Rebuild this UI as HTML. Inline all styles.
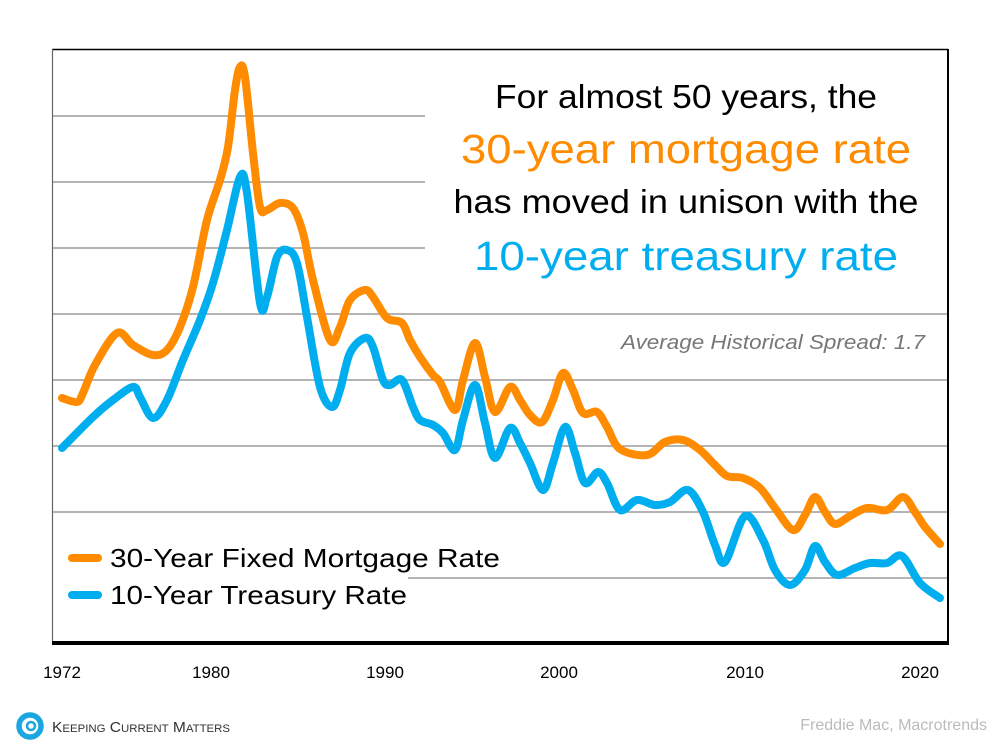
<!DOCTYPE html>
<html><head><meta charset="utf-8"><style>
html,body{margin:0;padding:0;background:#fff;}
svg{display:block;}
</style></head><body>
<svg id="s" width="1000" height="750" viewBox="0 0 1000 750" xmlns="http://www.w3.org/2000/svg" font-family="'Liberation Sans', sans-serif">
<rect width="1000" height="750" fill="#fff"/>
<g stroke="#888" stroke-width="1.2">
<line x1="52" y1="116" x2="425" y2="116"/>
<line x1="52" y1="182" x2="425" y2="182"/>
<line x1="52" y1="248" x2="425" y2="248"/>
<line x1="52" y1="314" x2="948" y2="314"/>
<line x1="52" y1="380" x2="948" y2="380"/>
<line x1="52" y1="446" x2="948" y2="446"/>
<line x1="52" y1="512" x2="948" y2="512"/>
<line x1="408" y1="578" x2="948" y2="578"/>
</g>
<line x1="52" y1="49.5" x2="948" y2="49.5" stroke="#000" stroke-width="1.5"/>
<line x1="52.5" y1="49" x2="52.5" y2="643" stroke="#666" stroke-width="1.2"/>
<line x1="948" y1="49" x2="948" y2="645" stroke="#000" stroke-width="2"/>
<line x1="52" y1="643" x2="949" y2="643" stroke="#000" stroke-width="4"/>
<path id="or" fill="none" stroke="#FF8C00" stroke-width="8" stroke-linecap="round" stroke-linejoin="round"/>
<path id="bl" fill="none" stroke="#00AEEF" stroke-width="8" stroke-linecap="round" stroke-linejoin="round"/>
<text x="686" y="108" font-size="33" text-anchor="middle" textLength="382" lengthAdjust="spacingAndGlyphs" fill="#000">For almost 50 years, the</text>
<text x="686" y="163" font-size="41" text-anchor="middle" textLength="450" lengthAdjust="spacingAndGlyphs" fill="#FF8C00">30-year mortgage rate</text>
<text x="686" y="213" font-size="33" text-anchor="middle" textLength="465" lengthAdjust="spacingAndGlyphs" fill="#000">has moved in unison with the</text>
<text x="686" y="270" font-size="41" text-anchor="middle" textLength="424" lengthAdjust="spacingAndGlyphs" fill="#00AEEF">10-year treasury rate</text>
<text x="621" y="349" font-size="20" font-style="italic" textLength="304" lengthAdjust="spacingAndGlyphs" fill="#777">Average Historical Spread: 1.7</text>
<line x1="72" y1="558" x2="98" y2="558" stroke="#FF8C00" stroke-width="8" stroke-linecap="round"/>
<line x1="72" y1="595" x2="98" y2="595" stroke="#00AEEF" stroke-width="8" stroke-linecap="round"/>
<text x="110" y="567" font-size="26" textLength="390" lengthAdjust="spacingAndGlyphs" fill="#000">30-Year Fixed Mortgage Rate</text>
<text x="110" y="604" font-size="26" textLength="297" lengthAdjust="spacingAndGlyphs" fill="#000">10-Year Treasury Rate</text>
<g font-size="17" fill="#000" text-anchor="middle">
<text x="62" y="678">1972</text><text x="211" y="678">1980</text><text x="385" y="678">1990</text>
<text x="559" y="678">2000</text><text x="745" y="678">2010</text><text x="920" y="678">2020</text>
</g>
<circle cx="30" cy="726" r="11" fill="none" stroke="#1AA6E0" stroke-width="5.5"/>
<circle cx="31" cy="726" r="4" fill="none" stroke="#1AA6E0" stroke-width="2.5"/>
<text x="52" y="732" font-size="15" fill="#333" textLength="178" lengthAdjust="spacingAndGlyphs">K<tspan font-size="11">EEPING</tspan> C<tspan font-size="11">URRENT</tspan> M<tspan font-size="11">ATTERS</tspan></text>
<text x="987" y="730" font-size="16" fill="#bbb" text-anchor="end">Freddie Mac, Macrotrends</text>
</svg>
<script>
function cr(p){var d="M"+p[0][0]+","+p[0][1];for(var i=0;i<p.length-1;i++){var a=p[i-1]||p[i],b=p[i],c=p[i+1],e=p[i+2]||c;
d+=" C"+(b[0]+(c[0]-a[0])/6).toFixed(1)+","+(b[1]+(c[1]-a[1])/6).toFixed(1)+" "+(c[0]-(e[0]-b[0])/6).toFixed(1)+","+(c[1]-(e[1]-b[1])/6).toFixed(1)+" "+c[0]+","+c[1];}return d;}
var O=[[62,398],[77,402],[83,393],[95,365],[117,333],[133,345],[153,355],[167,350],[180,327],[193,287],[207,220],[220,180],[228,147],[235,90],[240,67],[245,77],[253,153],[260,207],[267,210],[280,203],[293,208],[303,233],[313,280],[330,340],[340,327],[350,300],[365,290],[373,297],[387,318],[402,323],[410,340],[420,357],[433,375],[440,382],[455,410],[463,380],[475,343],[485,377],[495,412],[510,387],[520,400],[530,415],[542,422],[553,400],[563,373],[573,390],[583,413],[597,412],[607,427],[620,449],[647,455],[665,442],[683,440],[700,450],[715,465],[727,476],[743,478],[760,488],[775,508],[793,530],[805,515],[815,497],[825,512],[835,524],[850,516],[867,508],[887,510],[903,497],[915,512],[925,527],[940,544]];
var B=[[62,448],[93,417],[113,400],[133,387],[140,397],[153,418],[167,400],[183,360],[200,320],[213,283],[227,230],[240,177],[247,193],[260,303],[267,297],[277,257],[287,250],[297,263],[307,317],[320,387],[332,407],[340,390],[350,353],[365,338],[373,347],[383,380],[390,385],[402,380],[413,407],[420,420],[433,425],[443,433],[455,450],[463,420],[475,385],[485,423],[495,458],[510,428],[520,443],[530,463],[543,490],[553,463],[565,427],[575,453],[585,483],[598,472],[607,483],[620,510],[637,500],[655,505],[670,502],[688,490],[703,512],[715,545],[725,562],[745,516],[763,540],[775,570],[790,585],[805,570],[815,546],[825,562],[837,575],[855,568],[870,563],[887,563],[902,556],[920,583],[940,598]];
document.getElementById("or").setAttribute("d",cr(O));
document.getElementById("bl").setAttribute("d",cr(B));
</script>
</body></html>
